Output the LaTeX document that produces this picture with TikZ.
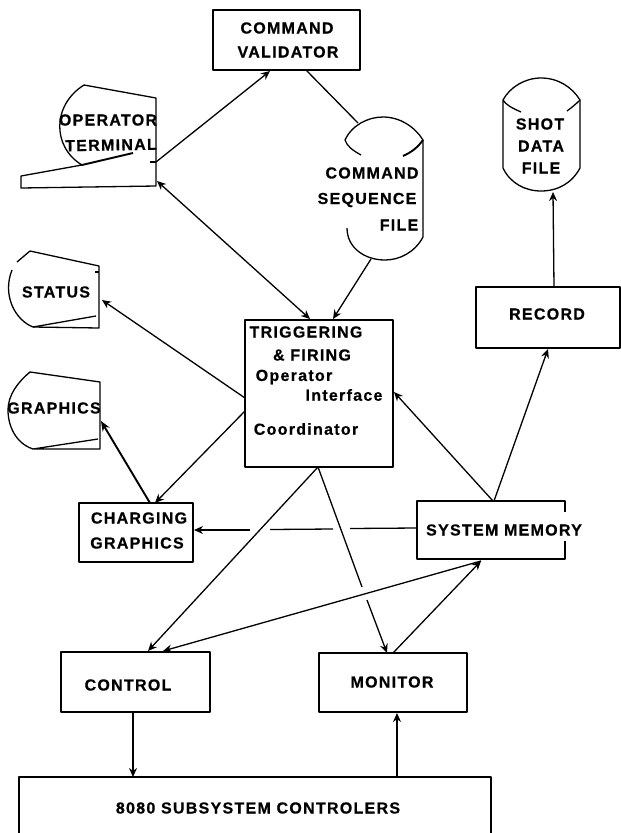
\documentclass[tikz,border=0pt]{standalone}
\usepackage{fontspec}
\setmainfont[LetterSpace=8,BoldFeatures={FakeBold=0.6}]{Liberation Sans}
\usetikzlibrary{arrows.meta,fit}
\tikzset{
  ln/.style={line width=1.3pt,line join=round},
  thickln/.style={line width=1.9pt},
  arr/.style={ln,-{Stealth[length=9pt,width=8pt]}},
  barr/.style={ln,{Stealth[length=9pt,width=8pt]}-{Stealth[length=9pt,width=8pt]}},
  boxed/.style={draw,ln,rectangle,inner sep=0pt},
  region/.style={rectangle,inner sep=0pt},
  lbl/.style={inner sep=0pt,font=\fontsize{16}{18}\selectfont\bfseries}
}
\begin{document}
\begin{tikzpicture}[x=1pt,y=-1pt]
\useasboundingbox (0,0) rectangle (621,833);
% boxes
\node[boxed,fit={(213,10)(360,70)}] (validator) {};
\node[boxed,fit={(245,320)(393,467)}] (trigger) {};
\node[boxed,fit={(79,503)(193,562)}] (charging) {};
\node[boxed,fit={(61,652)(210,712)}] (control) {};
\node[boxed,fit={(319,653)(467,712)}] (monitor) {};
\node[boxed,fit={(476,287)(620,348)}] (record) {};
% open-sided boxes
\node[region,fit={(417,501)(565,559)}] (sysmem) {};
\draw[ln] (565,512) -- (565,501) -- (417,501) -- (417,559) -- (565,559) -- (565,541);
\node[region,fit={(19,777)(491,833)}] (subsys) {};
\draw[ln] (19,833) -- (19,777) -- (491,777) -- (491,833);
% operator terminal
\node[region,fit={(21,85)(156,188)}] (opterm) {};
\draw[ln] (82,165) .. controls (52,147) and (52,105) .. (84,85) -- (156,98) -- (156,186) -- (21,188) -- (21,176) -- (82,165);
\draw[thickln] (82,165) -- (133,153);
\draw[ln] (150,162) -- (156,162);
% command sequence file
\node[region,fit={(345,117)(423,260)}] (seqfile) {};
\draw[ln] (361,155) .. controls (352,150) and (347,146) .. (345,140) .. controls (352,125) and (368,117) .. (383,117) .. controls (400,117) and (415,127) .. (423,140) -- (423,237) .. controls (415,252) and (400,260) .. (385,260) .. controls (365,260) and (347,248) .. (347,228);
\draw[thickln] (403,156) .. controls (412,152) and (418,147) .. (423,140);
% shot data file
\node[region,fit={(503,78)(580,192)}] (shotfile) {};
\draw[ln] (521,112) .. controls (512,108) and (506,105) .. (503,100) .. controls (510,87) and (525,78) .. (541,78) .. controls (558,78) and (572,87) .. (580,100) -- (580,168) .. controls (572,183) and (558,191) .. (541,191) .. controls (525,191) and (510,183) .. (503,168) -- (503,100);
\draw[ln] (580,100) .. controls (575,105) and (571,108) .. (567,111);
% status
\node[region,fit={(8,251)(99,328)}] (status) {};
\draw[ln] (17,262) -- (30,251) -- (99,266) -- (99,328) -- (33,327) .. controls (15,320) and (2,295) .. (12,270);
\draw[ln] (33,327) -- (96,316);
\draw[ln] (95,272) -- (99,272);
% graphics
\node[region,fit={(8,372)(100,449)}] (graphicsdisp) {};
\draw[ln] (33,449) .. controls (15,443) and (8,425) .. (8,410) .. controls (8,395) and (18,382) .. (30,372) -- (100,382) -- (100,449) -- (33,449) -- (98,439);
% labels
\node[lbl] (t1) at (287,28) {COMMAND};
\node[lbl] (t2) at (288,52) {VALIDATOR};
\node[lbl] (t3) at (108,120) {OPERATOR};
\node[lbl,rotate=1] (t4) at (111,145) {TERMINAL};
\node[lbl] (t5) at (372,173) {COMMAND};
\node[lbl] (t6) at (367,200) {SEQUENCE};
\node[lbl] (t7) at (399,225) {FILE};
\node[lbl] (t8) at (540,124) {SHOT};
\node[lbl] (t9) at (541,146) {DATA};
\node[lbl] (t10) at (541,168) {FILE};
\node[lbl] (t11) at (547,314) {RECORD};
\node[lbl] (t12) at (56,292) {STATUS};
\node[lbl] (t13) at (54,408) {GRAPHICS};
\node[lbl] (t14) at (139,518) {CHARGING};
\node[lbl] (t15) at (137,543) {GRAPHICS};
\node[lbl] (t16) at (306,332) {TRIGGERING};
\node[lbl] (t17) at (312,355) {\& FIRING};
\node[lbl] (t18) at (294,377) {Operator};
\node[lbl] (t19) at (344,395) {Interface};
\node[lbl] (t20) at (306,429) {Coordinator};
\node[lbl] (t21) at (504,530) {SYSTEM MEMORY};
\node[lbl] (t22) at (128,685) {CONTROL};
\node[lbl] (t23) at (392,682) {MONITOR};
\node[lbl] (t24) at (258,808) {8080 SUBSYSTEM CONTROLERS};
% connector ends (positions measured along each shape's edge)
\coordinate (termout) at (156,162);
\coordinate (termio) at (157,181);
\coordinate (valin) at (270,71);
\coordinate (valout) at (306,70);
\coordinate (seqin) at (358,123);
\coordinate (seqout) at (371,259);
\coordinate (trigtopa) at (310,319);
\coordinate (trigtopb) at (333,319);
\coordinate (trigsta) at (245,398);
\coordinate (trigcha) at (245,411);
\coordinate (trigbot) at (318,467);
\coordinate (trigr) at (394,392);
\coordinate (stain) at (102,300);
\coordinate (chain) at (155,503);
\coordinate (chaout) at (150,503);
\coordinate (grain) at (101,421);
\coordinate (chaside) at (194,530);
\coordinate (memtopa) at (493,501);
\coordinate (memtopb) at (494,501);
\coordinate (memside) at (417,528);
\coordinate (membot) at (481,561);
\coordinate (recin) at (548,349);
\coordinate (shotin) at (553,192);
\coordinate (recout) at (554,287);
\coordinate (ctlina) at (148,651);
\coordinate (ctlinb) at (163,651);
\coordinate (monin) at (387,653);
\coordinate (monout) at (393,653);
\coordinate (ctlout) at (133,712);
\coordinate (subin) at (133,777);
\coordinate (subout) at (397,777);
\coordinate (monbot) at (397,713);
\coordinate (gapa) at (362,587);
\coordinate (gapb) at (367,600);
\coordinate (h1) at (350,528.5);
\coordinate (h2) at (333,529);
\coordinate (h3) at (270,529.5);
\coordinate (h4) at (250,530);
% connectors
\draw[arr] (termout) -- (valin);
\draw[barr] (termio) -- (trigtopa);
\draw[ln] (valout) -- (seqin);
\draw[arr] (seqout) -- (trigtopb);
\draw[arr] (trigsta) -- (stain);
\draw[arr] (trigcha) -- (chain);
\draw[thickln,-{Stealth[length=10pt,width=8pt]}] (chaout) -- (grain);
\draw[ln] (memside) -- (h1);
\draw[ln] (h2) -- (h3);
\draw[arr] (h4) -- (chaside);
\draw[arr] (memtopa) -- (trigr);
\draw[arr] (memtopb) -- (recin);
\draw[arr] (recout) -- (shotin);
\draw[arr] (trigbot) -- (ctlina);
\draw[ln] (trigbot) -- (gapa);
\draw[arr] (gapb) -- (monin);
\draw[arr] (membot) -- (ctlinb);
\draw[arr] (monout) -- (membot);
\draw[arr] (ctlout) -- (subin);
\draw[arr] (subout) -- (monbot);
\end{tikzpicture}
\end{document}
